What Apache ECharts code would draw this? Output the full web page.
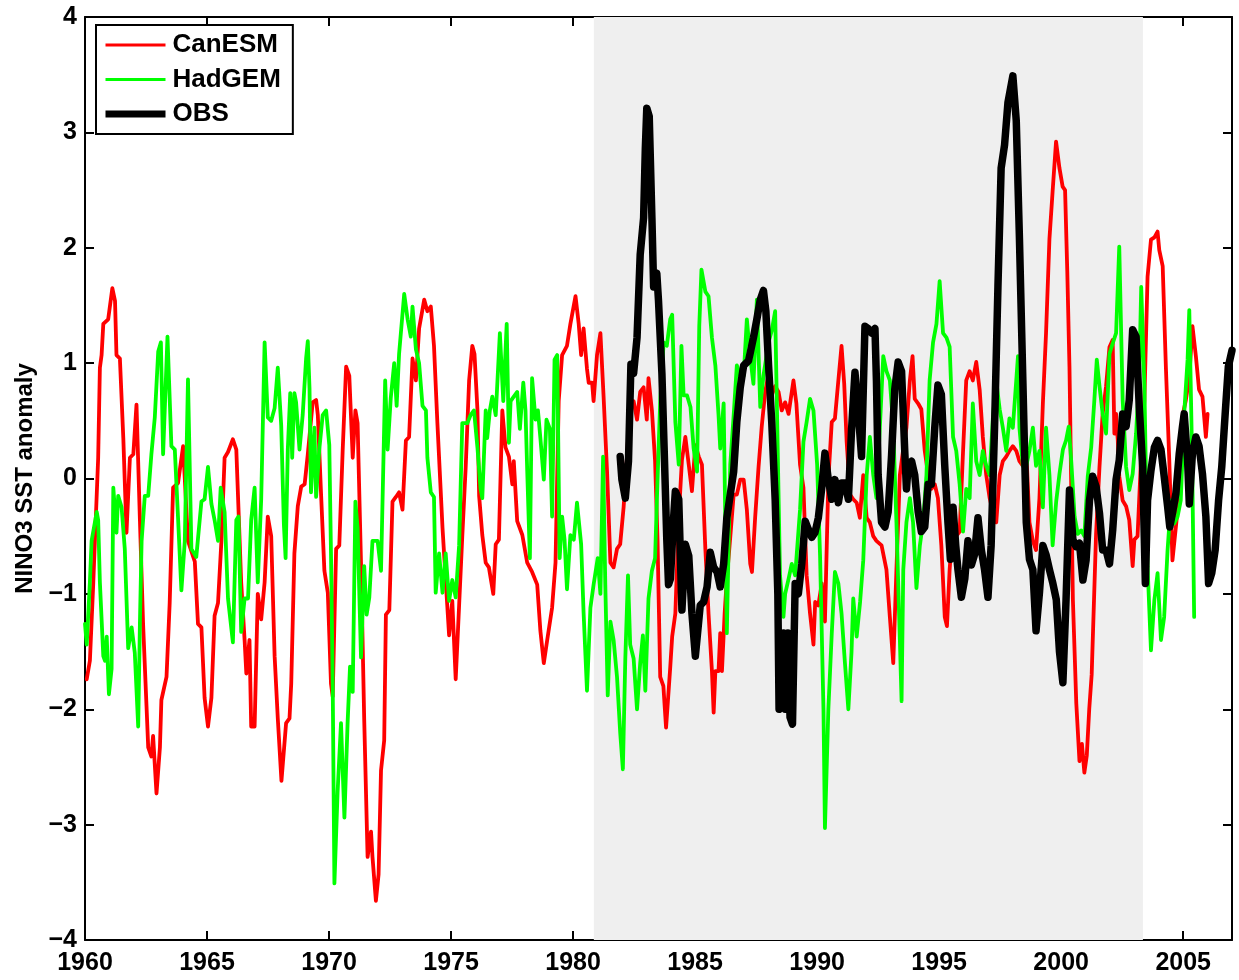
<!DOCTYPE html>
<html>
<head>
<meta charset="utf-8">
<title>NINO3 SST anomaly</title>
<script src="https://cdn.jsdelivr.net/npm/echarts@6/dist/echarts.min.js"></script>
<style>
  html, body { margin: 0; padding: 0; background: #ffffff; }
  #chart { width: 1239px; height: 980px; }
</style>
</head>
<body>
<div id="chart"></div>
<script>
// Monthly-ish NINO3 SST anomaly traces: [year, anomaly]
const canesm = [
  [1960.07,-1.74],[1960.2,-1.58],[1960.34,-0.90],[1960.54,0.18],[1960.61,0.96],[1960.68,1.07],[1960.75,1.34],[1960.95,1.38],
  [1961.12,1.65],[1961.23,1.54],[1961.29,1.07],[1961.43,1.04],[1961.57,0.35],[1961.7,-0.47],[1961.84,0.18],[1961.98,0.21],
  [1962.11,0.64],[1962.25,-0.36],[1962.38,-1.26],[1962.52,-1.97],[1962.59,-2.33],[1962.72,-2.41],[1962.79,-2.23],[1962.93,-2.73],
  [1963.07,-2.33],[1963.13,-1.92],[1963.34,-1.72],[1963.47,-1.08],[1963.61,-0.08],[1963.81,-0.04],[1964.02,0.28],[1964.22,-0.54],
  [1964.5,-0.72],[1964.63,-1.26],[1964.77,-1.29],[1964.9,-1.90],[1965.04,-2.15],[1965.18,-1.9],[1965.31,-1.19],[1965.45,-1.08],
  [1965.59,-0.54],[1965.72,0.18],[1965.86,0.23],[1966.06,0.34],[1966.2,0.25],[1966.4,-0.9],[1966.54,-1.4],[1966.61,-1.69],
  [1966.74,-1.4],[1966.81,-2.15],[1966.95,-2.15],[1967.08,-1.0],[1967.22,-1.22],[1967.36,-0.9],[1967.49,-0.33],[1967.63,-0.5],
  [1967.77,-1.54],[1967.9,-2.08],[1968.05,-2.62],[1968.24,-2.12],[1968.38,-2.08],[1968.45,-1.78],[1968.58,-0.65],[1968.72,-0.24],
  [1968.86,-0.07],[1969.0,-0.05],[1969.13,0.21],[1969.33,0.66],[1969.47,0.68],[1969.54,0.55],[1969.67,-0.12],[1969.81,-0.8],
  [1969.95,-0.99],[1970.08,-1.78],[1970.15,-1.89],[1970.29,-0.61],[1970.42,-0.58],[1970.56,0.25],[1970.7,0.97],[1970.83,0.89],
  [1970.97,0.18],[1971.08,0.59],[1971.17,0.48],[1971.31,-0.73],[1971.44,-2.08],[1971.58,-3.28],[1971.72,-3.06],[1971.78,-3.28],
  [1971.92,-3.66],[1972.03,-3.43],[1972.13,-2.53],[1972.26,-2.27],[1972.33,-1.18],[1972.47,-1.14],[1972.6,-0.2],[1972.74,-0.16],
  [1972.87,-0.12],[1973.01,-0.27],[1973.15,0.33],[1973.28,0.36],[1973.42,1.04],[1973.56,0.85],[1973.69,1.3],[1973.9,1.55],
  [1974.03,1.45],[1974.17,1.49],[1974.3,1.15],[1974.44,0.48],[1974.65,-0.43],[1974.78,-0.88],[1974.92,-1.36],[1975.05,-1.06],
  [1975.19,-1.74],[1975.33,-1.1],[1975.46,-0.5],[1975.6,0.1],[1975.74,0.85],[1975.87,1.15],[1975.96,1.08],[1976.08,0.6],
  [1976.15,-0.15],[1976.28,-0.49],[1976.42,-0.73],[1976.55,-0.77],[1976.73,-1.0],[1976.83,-0.57],[1976.96,-0.53],[1977.1,0.59],
  [1977.23,0.27],[1977.37,0.19],[1977.51,-0.05],[1977.57,0.15],[1977.71,-0.37],[1977.92,-0.49],[1978.12,-0.73],[1978.32,-0.81],
  [1978.53,-0.92],[1978.66,-1.32],[1978.8,-1.6],[1978.94,-1.4],[1979.14,-1.12],[1979.28,-0.73],[1979.41,0.67],[1979.55,1.07],
  [1979.75,1.15],[1979.89,1.34],[1980.1,1.58],[1980.23,1.34],[1980.33,1.07],[1980.43,1.3],[1980.57,0.95],[1980.64,0.83],
  [1980.78,0.83],[1980.84,0.67],[1980.98,1.07],[1981.12,1.26],[1981.25,0.71],[1981.39,0.07],[1981.53,-0.73],[1981.66,-0.77],
  [1981.8,-0.61],[1981.93,-0.57],[1982.07,-0.25],[1982.21,0.19],[1982.34,0.67],[1982.48,0.67],[1982.62,0.51],[1982.75,0.75],
  [1982.89,0.79],[1983.02,0.51],[1983.09,0.87],[1983.23,0.59],[1983.36,0.15],[1983.46,-0.53],[1983.57,-1.72],[1983.7,-1.8],
  [1983.81,-2.16],[1983.98,-1.64],[1984.06,-1.37],[1984.19,-1.17],[1984.33,-0.34],[1984.46,0.16],[1984.6,0.36],[1984.74,0.12],
  [1984.87,-0.11],[1985.01,0.29],[1985.15,0.19],[1985.28,0.12],[1985.42,-0.61],[1985.55,-1.17],[1985.69,-1.67],[1985.76,-2.03],
  [1985.83,-1.67],[1985.96,-1.67],[1986.03,-1.34],[1986.1,-1.67],[1986.21,-1.17],[1986.3,-0.87],[1986.44,-0.51],[1986.58,-0.14],
  [1986.71,-0.14],[1986.85,-0.01],[1986.99,-0.01],[1987.12,-0.27],[1987.26,-0.74],[1987.33,-0.81],[1987.46,-0.34],[1987.6,0.1],
  [1987.73,0.45],[1987.87,0.75],[1988.01,0.9],[1988.14,0.72],[1988.28,0.8],[1988.42,0.75],[1988.55,0.59],[1988.69,0.66],
  [1988.83,0.56],[1989.03,0.85],[1989.15,0.65],[1989.3,0.12],[1989.44,-0.08],[1989.57,-0.84],[1989.71,-1.17],[1989.85,-1.44],
  [1989.92,-1.07],[1990.05,-1.1],[1990.19,-0.91],[1990.32,-1.24],[1990.46,-0.01],[1990.6,0.49],[1990.73,0.52],[1990.87,0.85],
  [1991.0,1.15],[1991.11,0.82],[1991.21,0.32],[1991.35,-0.14],[1991.48,-0.18],[1991.62,-0.21],[1991.75,-0.34],[1991.89,0.03],
  [1992.03,-0.34],[1992.16,-0.38],[1992.3,-0.5],[1992.43,-0.54],[1992.64,-0.58],[1992.84,-0.79],[1992.98,-1.2],[1993.12,-1.6],
  [1993.25,-0.79],[1993.39,0.03],[1993.52,0.24],[1993.66,0.44],[1993.8,0.85],[1993.91,1.06],[1994.0,0.69],[1994.14,0.65],
  [1994.27,0.6],[1994.41,0.24],[1994.55,0.03],[1994.68,-0.09],[1994.82,-0.05],[1994.95,-0.17],[1995.09,-0.58],[1995.23,-1.2],
  [1995.32,-1.28],[1995.43,-0.79],[1995.57,-0.38],[1995.7,-0.5],[1995.84,-0.46],[1995.98,0.24],[1996.11,0.85],[1996.25,0.93],
  [1996.38,0.85],[1996.52,1.01],[1996.66,0.77],[1996.79,0.36],[1996.93,0.03],[1997.07,-0.17],[1997.2,-0.29],[1997.34,-0.38],
  [1997.48,0.03],[1997.61,0.15],[1997.75,0.19],[1997.88,0.24],[1998.02,0.28],[1998.16,0.24],[1998.29,0.15],[1998.43,0.11],
  [1998.57,0.24],[1998.7,-0.38],[1998.84,-0.54],[1998.97,-0.62],[1999.11,-0.17],[1999.25,0.65],[1999.38,1.26],[1999.52,2.08],
  [1999.65,2.49],[1999.79,2.92],[1999.93,2.69],[2000.06,2.53],[2000.16,2.5],[2000.25,1.8],[2000.34,0.97],[2000.48,-1.05],
  [2000.62,-1.95],[2000.75,-2.45],[2000.85,-2.3],[2000.95,-2.55],[2001.05,-2.4],[2001.15,-2.0],[2001.25,-1.7],[2001.43,-0.48],
  [2001.57,0.1],[2001.7,0.56],[2001.84,0.8],[2001.98,1.14],[2002.11,1.2],[2002.18,0.39],[2002.25,0.56],[2002.32,0.33],
  [2002.38,0.02],[2002.52,-0.19],[2002.66,-0.24],[2002.79,-0.36],[2002.93,-0.76],[2003.0,-0.53],[2003.13,-0.5],[2003.27,0.16],
  [2003.41,0.68],[2003.54,1.75],[2003.68,2.07],[2003.82,2.09],[2003.95,2.14],[2004.02,1.98],[2004.16,1.84],[2004.29,0.97],
  [2004.43,0.16],[2004.56,-0.71],[2004.7,-0.42],[2004.84,-0.13],[2004.97,0.54],[2005.11,0.68],[2005.25,0.88],[2005.38,1.32],
  [2005.52,1.06],[2005.65,0.77],[2005.79,0.71],[2005.93,0.36],[2006.0,0.56]
];

const hadgem = [
  [1960.0,-1.26],[1960.07,-1.44],[1960.2,-0.9],[1960.27,-0.54],[1960.48,-0.29],[1960.54,-0.36],[1960.61,-0.9],[1960.75,-1.54],
  [1960.82,-1.58],[1960.89,-1.37],[1960.98,-1.87],[1961.09,-1.65],[1961.16,-0.08],[1961.29,-0.47],[1961.36,-0.15],[1961.5,-0.25],
  [1961.63,-0.61],[1961.77,-1.47],[1961.91,-1.29],[1962.04,-1.51],[1962.18,-2.15],[1962.25,-1.26],[1962.32,-0.54],[1962.45,-0.15],
  [1962.59,-0.15],[1962.72,0.21],[1962.86,0.53],[1963.0,1.1],[1963.11,1.18],[1963.2,0.21],[1963.38,1.23],[1963.54,0.28],
  [1963.68,0.25],[1963.81,-0.33],[1963.95,-0.97],[1964.09,-0.54],[1964.22,0.86],[1964.36,-0.61],[1964.56,-0.68],[1964.77,-0.2],
  [1964.9,-0.18],[1965.04,0.1],[1965.18,-0.22],[1965.31,-0.36],[1965.45,-0.54],[1965.56,-0.08],[1965.72,-0.29],[1965.86,-1.04],
  [1966.06,-1.42],[1966.2,-0.36],[1966.29,-0.33],[1966.4,-1.33],[1966.54,-1.04],[1966.68,-1.04],[1966.81,-0.36],[1966.95,-0.08],
  [1967.08,-0.9],[1967.22,-0.18],[1967.36,1.18],[1967.49,0.53],[1967.63,0.5],[1967.77,0.61],[1967.9,0.96],[1968.04,0.46],
  [1968.15,-0.4],[1968.22,-0.69],[1968.31,0.25],[1968.41,0.74],[1968.49,0.18],[1968.58,0.74],[1968.65,0.66],[1968.79,0.25],
  [1968.92,0.55],[1969.06,1.04],[1969.13,1.19],[1969.2,0.78],[1969.26,-0.12],[1969.4,0.44],[1969.47,-0.16],[1969.6,0.25],
  [1969.74,0.55],[1969.88,0.59],[1970.01,0.29],[1970.08,-0.65],[1970.15,-1.78],[1970.22,-3.51],[1970.35,-2.72],[1970.49,-2.12],
  [1970.63,-2.94],[1970.76,-2.12],[1970.86,-1.63],[1970.97,-1.85],[1971.08,-0.2],[1971.17,-0.43],[1971.31,-1.55],[1971.44,-0.76],
  [1971.54,-1.18],[1971.65,-1.03],[1971.78,-0.54],[1971.99,-0.54],[1972.13,-0.8],[1972.3,0.85],[1972.4,0.25],[1972.53,0.7],
  [1972.67,1.0],[1972.77,0.63],[1972.87,1.08],[1973.08,1.6],[1973.22,1.38],[1973.35,1.23],[1973.42,1.49],[1973.56,1.12],
  [1973.69,1.0],[1973.83,0.63],[1973.97,0.59],[1974.03,0.18],[1974.17,-0.12],[1974.3,-0.16],[1974.37,-0.99],[1974.51,-0.65],
  [1974.65,-0.99],[1974.78,-0.65],[1974.92,-1.06],[1975.05,-0.88],[1975.19,-1.03],[1975.33,-0.58],[1975.46,0.48],[1975.67,0.48],
  [1975.8,0.55],[1975.94,0.59],[1976.08,0.27],[1976.21,-0.09],[1976.28,-0.17],[1976.42,0.59],[1976.48,0.35],[1976.59,0.59],
  [1976.69,0.71],[1976.83,0.55],[1977.0,1.26],[1977.14,0.67],[1977.28,1.34],[1977.37,0.31],[1977.44,0.67],[1977.57,0.71],
  [1977.71,0.75],[1977.82,0.43],[1977.96,0.83],[1978.05,0.59],[1978.12,0.07],[1978.23,-0.69],[1978.32,0.87],[1978.46,0.51],
  [1978.56,0.59],[1978.66,0.35],[1978.8,-0.01],[1978.91,0.51],[1979.05,0.43],[1979.14,-0.33],[1979.24,1.03],[1979.35,1.07],
  [1979.45,-0.69],[1979.55,-0.33],[1979.65,-0.53],[1979.75,-0.96],[1979.89,-0.49],[1980.03,-0.53],[1980.16,-0.21],[1980.33,-0.57],
  [1980.43,-1.16],[1980.57,-1.84],[1980.71,-1.12],[1980.84,-0.92],[1981.01,-0.69],[1981.12,-1.0],[1981.23,0.19],[1981.32,-0.92],
  [1981.42,-1.88],[1981.53,-1.24],[1981.66,-1.4],[1981.8,-1.72],[1981.93,-2.2],[1982.04,-2.52],[1982.14,-1.56],[1982.25,-0.84],
  [1982.34,-1.44],[1982.48,-1.56],[1982.62,-2.0],[1982.75,-1.6],[1982.86,-1.36],[1982.96,-1.84],[1983.09,-1.04],[1983.23,-0.8],
  [1983.36,-0.69],[1983.46,-0.01],[1983.57,0.67],[1983.71,1.18],[1983.84,1.15],[1983.98,1.38],[1984.06,1.42],[1984.19,0.49],
  [1984.33,0.12],[1984.44,1.15],[1984.53,0.72],[1984.67,0.72],[1984.81,0.62],[1984.94,0.26],[1985.08,0.06],[1985.17,1.32],
  [1985.26,1.81],[1985.42,1.62],[1985.55,1.58],[1985.69,1.22],[1985.83,0.98],[1985.96,0.55],[1986.03,0.26],[1986.17,0.65],
  [1986.3,-1.34],[1986.44,0.12],[1986.58,0.55],[1986.71,0.98],[1986.85,0.89],[1986.99,0.89],[1987.12,1.38],[1987.26,1.05],
  [1987.39,0.82],[1987.53,1.55],[1987.67,0.62],[1987.8,0.89],[1988.01,1.18],[1988.14,1.28],[1988.28,1.45],[1988.35,0.65],
  [1988.48,-0.84],[1988.62,-1.2],[1988.69,-1.0],[1988.83,-0.87],[1988.96,-0.74],[1989.1,-0.84],[1989.3,-0.27],[1989.44,0.32],
  [1989.57,0.49],[1989.71,0.69],[1989.85,0.59],[1990.0,0.12],[1990.12,-0.67],[1990.26,-2.0],[1990.32,-3.03],[1990.46,-2.0],
  [1990.6,-1.34],[1990.73,-0.81],[1990.87,-0.91],[1991.0,-1.17],[1991.14,-1.6],[1991.28,-2.0],[1991.41,-1.5],[1991.48,-1.04],
  [1991.62,-1.37],[1991.76,-1.07],[1991.89,-0.71],[1992.03,0.03],[1992.16,0.36],[1992.3,0.03],[1992.43,-0.17],[1992.57,0.44],
  [1992.71,1.06],[1992.84,0.93],[1992.98,0.85],[1993.12,0.44],[1993.25,-0.38],[1993.39,-1.4],[1993.46,-1.93],[1993.53,-0.79],
  [1993.66,-0.38],[1993.8,-0.17],[1993.93,-0.38],[1994.07,-0.95],[1994.21,-0.58],[1994.34,-0.38],[1994.48,0.03],[1994.61,0.85],
  [1994.75,1.18],[1994.89,1.34],[1995.02,1.71],[1995.16,1.26],[1995.3,1.22],[1995.43,1.14],[1995.57,0.36],[1995.7,0.24],
  [1995.84,-0.05],[1995.98,-0.46],[1996.11,-0.09],[1996.25,-0.17],[1996.38,0.65],[1996.52,0.15],[1996.66,0.03],[1996.79,0.24],
  [1996.93,0.11],[1997.07,0.03],[1997.2,0.52],[1997.34,0.85],[1997.48,0.6],[1997.61,0.44],[1997.75,0.24],[1997.88,0.52],
  [1998.02,0.44],[1998.16,0.85],[1998.23,1.06],[1998.29,0.44],[1998.43,0.11],[1998.57,0.11],[1998.7,0.24],[1998.84,0.44],
  [1998.97,0.11],[1999.11,0.24],[1999.25,-0.25],[1999.38,0.44],[1999.52,0.03],[1999.65,-0.58],[1999.8,-0.19],[1999.93,0.04],
  [2000.07,0.25],[2000.2,0.33],[2000.31,0.45],[2000.41,0.16],[2000.55,-0.33],[2000.68,-0.48],[2000.82,-0.45],[2000.95,-0.5],
  [2001.09,0.02],[2001.23,0.27],[2001.36,0.68],[2001.46,1.03],[2001.57,0.8],[2001.7,0.56],[2001.84,0.39],[2001.98,1.08],
  [2002.11,1.17],[2002.25,1.26],[2002.38,2.01],[2002.52,0.68],[2002.66,0.1],[2002.79,-0.1],[2002.93,0.04],[2003.07,0.39],
  [2003.2,0.91],[2003.28,1.66],[2003.41,0.8],[2003.54,-0.76],[2003.68,-1.49],[2003.82,-1.05],[2003.95,-0.82],[2004.09,-1.4],
  [2004.22,-1.2],[2004.36,-0.62],[2004.5,-0.19],[2004.63,-0.39],[2004.77,-0.33],[2004.9,-0.19],[2005.04,0.56],[2005.18,1.03],
  [2005.25,1.46],[2005.36,0.25],[2005.45,-1.2]
];

const obs = [
  [1981.93,0.19],[1982.0,-0.01],[1982.14,-0.17],[1982.27,0.15],[1982.37,0.99],[1982.48,0.91],[1982.62,1.22],[1982.75,1.94],
  [1982.89,2.26],[1982.96,2.86],[1983.02,3.21],[1983.12,3.14],[1983.23,2.26],[1983.3,1.66],[1983.43,1.78],[1983.5,1.54],
  [1983.64,0.91],[1983.73,0.27],[1983.84,-0.53],[1983.91,-0.92],[1983.99,-0.87],[1984.12,-0.34],[1984.19,-0.11],[1984.33,-0.18],
  [1984.46,-1.14],[1984.6,-0.57],[1984.74,-0.67],[1984.87,-1.17],[1985.01,-1.54],[1985.21,-1.1],[1985.35,-1.07],[1985.49,-0.94],
  [1985.62,-0.64],[1985.76,-0.77],[1985.9,-0.81],[1986.03,-0.94],[1986.17,-0.74],[1986.3,-0.34],[1986.44,-0.14],[1986.58,0.06],
  [1986.71,0.49],[1986.85,0.79],[1986.99,0.98],[1987.19,1.02],[1987.39,1.22],[1987.53,1.38],[1987.67,1.55],[1987.8,1.63],
  [1987.9,1.45],[1988.01,0.98],[1988.14,0.49],[1988.28,-0.18],[1988.39,-1.0],[1988.44,-2.0],[1988.52,-1.93],[1988.62,-1.34],
  [1988.69,-2.0],[1988.8,-1.34],[1988.89,-2.07],[1988.99,-2.13],[1989.1,-0.91],[1989.23,-1.0],[1989.37,-0.74],[1989.51,-0.37],
  [1989.64,-0.44],[1989.78,-0.51],[1989.91,-0.47],[1990.05,-0.34],[1990.19,-0.08],[1990.32,0.22],[1990.46,-0.01],[1990.6,-0.18],
  [1990.73,-0.01],[1990.87,-0.21],[1991.0,-0.04],[1991.14,-0.04],[1991.28,-0.18],[1991.41,0.42],[1991.55,0.92],[1991.68,0.59],
  [1991.82,0.19],[1991.96,1.32],[1992.09,1.3],[1992.23,1.26],[1992.37,1.3],[1992.43,0.85],[1992.5,0.03],[1992.64,-0.38],
  [1992.78,-0.42],[1992.91,-0.29],[1993.05,0.2],[1993.18,0.77],[1993.32,1.01],[1993.46,0.93],[1993.59,0.24],[1993.66,-0.09],
  [1993.73,0.11],[1993.87,0.15],[1994.0,0.03],[1994.14,-0.29],[1994.27,-0.46],[1994.41,-0.42],[1994.55,-0.05],[1994.68,-0.05],
  [1994.82,0.44],[1994.95,0.81],[1995.09,0.73],[1995.23,0.11],[1995.36,-0.38],[1995.46,-0.7],[1995.57,-0.25],[1995.68,-0.58],
  [1995.77,-0.79],[1995.91,-1.03],[1996.05,-0.87],[1996.18,-0.54],[1996.32,-0.75],[1996.45,-0.66],[1996.59,-0.34],[1996.73,-0.62],
  [1996.86,-0.79],[1997.0,-1.03],[1997.13,-0.58],[1997.27,0.44],[1997.41,1.67],[1997.54,2.69],[1997.68,2.89],[1997.82,3.26],
  [1998.02,3.49],[1998.16,3.1],[1998.29,2.08],[1998.43,0.85],[1998.57,-0.38],[1998.7,-0.7],[1998.84,-0.79],[1998.97,-1.32],
  [1999.11,-0.99],[1999.25,-0.58],[1999.38,-0.66],[1999.52,-0.79],[1999.65,-0.9],[1999.8,-1.05],[1999.93,-1.5],[2000.07,-1.77],
  [2000.2,-1.05],[2000.34,-0.1],[2000.48,-0.53],[2000.61,-0.59],[2000.75,-0.56],[2000.89,-0.88],[2001.02,-0.71],[2001.16,-0.19],
  [2001.29,0.02],[2001.43,-0.07],[2001.57,-0.3],[2001.7,-0.62],[2001.84,-0.62],[2001.98,-0.74],[2002.11,-0.45],[2002.25,-0.01],
  [2002.38,0.16],[2002.52,0.56],[2002.66,0.45],[2002.79,0.68],[2002.93,1.29],[2003.07,1.23],[2003.2,0.62],[2003.34,0.1],
  [2003.45,-0.91],[2003.54,-0.19],[2003.68,0.07],[2003.82,0.27],[2003.95,0.33],[2004.09,0.25],[2004.22,0.02],[2004.36,-0.24],
  [2004.45,-0.42],[2004.56,-0.3],[2004.7,-0.13],[2004.84,0.22],[2004.97,0.45],[2005.04,0.56],[2005.18,0.16],[2005.25,-0.22],
  [2005.38,0.22],[2005.52,0.36],[2005.65,0.28],[2005.79,0.04],[2005.93,-0.33],[2006.04,-0.91],[2006.17,-0.82],[2006.31,-0.62],
  [2006.45,-0.19],[2006.58,0.1],[2006.72,0.56],[2006.85,0.97],[2007.0,1.11]
];

// Shaded period and axis ranges
const shadePeriod = [1980.85, 2003.35];
const yearRange = [1960, 2007];
const anomalyRange = [-4, 4];

const seriesNames = ['CanESM', 'HadGEM', 'OBS'];
const seriesColors = ['#ff0000', '#00ff00', '#000000'];
const seriesWidths = [3.8, 3.8, 7.5];
const legendWidths = [3, 3, 7];
const fontFamily = '"Liberation Sans", Arial, Helvetica, sans-serif';

const frameLine = { show: true, onZero: false, lineStyle: { color: '#000', width: 2 } };
const frameTick = { show: true, inside: true, length: 9, lineStyle: { color: '#000', width: 2 } };

function minusSign(v) {
  return v < 0 ? '\u2212' + Math.abs(v) : String(v);
}

const traces = [canesm, hadgem, obs];

const lineSeries = seriesNames.map((name, i) => ({
  name: name,
  type: 'line',
  data: traces[i],
  z: 2 + i,
  showSymbol: false,
  symbol: 'none',
  clip: true,
  lineStyle: { color: seriesColors[i], width: seriesWidths[i], join: 'round', cap: 'round' },
  itemStyle: { color: seriesColors[i] }
}));

const legendItems = seriesNames.map((name, i) => ({
  name: name,
  lineStyle: { color: seriesColors[i], width: legendWidths[i], cap: 'butt' },
  itemStyle: { opacity: 0, borderWidth: 0 }
}));

const chart = echarts.init(document.getElementById('chart'), null, { renderer: 'canvas' });

chart.setOption({
  animation: false,
  backgroundColor: '#ffffff',
  grid: { left: 85, right: 7, top: 17, bottom: 40, containLabel: false },
  xAxis: [
    {
      type: 'value', position: 'bottom',
      min: yearRange[0], max: yearRange[1], interval: 5,
      axisLine: frameLine, axisTick: frameTick,
      splitLine: { show: false },
      axisLabel: {
        color: '#000', fontSize: 25, fontWeight: 'bold', fontFamily: fontFamily, margin: 11,
        showMaxLabel: false,
        formatter: v => (v % 5 === 0 ? String(v) : '')
      }
    },
    {
      type: 'value', position: 'top',
      min: yearRange[0], max: yearRange[1], interval: 5,
      axisLine: frameLine, axisTick: frameTick,
      splitLine: { show: false }, axisLabel: { show: false }
    }
  ],
  yAxis: [
    {
      type: 'value', position: 'left',
      min: anomalyRange[0], max: anomalyRange[1], interval: 1,
      axisLine: frameLine, axisTick: frameTick,
      splitLine: { show: false },
      axisLabel: {
        color: '#000', fontSize: 25, fontWeight: 'bold', fontFamily: fontFamily, margin: 8,
        formatter: minusSign
      },
      name: 'NINO3 SST anomaly',
      nameLocation: 'middle',
      nameGap: 47,
      nameTextStyle: { color: '#000', fontSize: 24, fontWeight: 'bold', fontFamily: fontFamily }
    },
    {
      type: 'value', position: 'right',
      min: anomalyRange[0], max: anomalyRange[1], interval: 1,
      axisLine: frameLine, axisTick: frameTick,
      splitLine: { show: false }, axisLabel: { show: false }
    }
  ],
  legend: {
    data: legendItems,
    orient: 'vertical',
    left: 96, top: 25,
    padding: [6, 12, 6, 6],
    itemGap: 6.5,
    itemWidth: 60,
    itemHeight: 14,
    backgroundColor: '#ffffff',
    borderColor: '#000',
    borderWidth: 2,
    borderRadius: 0,
    selectedMode: false,
    itemStyle: { opacity: 0, borderWidth: 0 },
    textStyle: {
      color: '#000', fontSize: 26, fontWeight: 'bold', fontFamily: fontFamily,
      lineHeight: 28, padding: [0, 0, 0, 2]
    }
  },
  series: [
    {
      name: 'shade', type: 'line', data: [], z: 1, silent: true,
      markArea: {
        silent: true,
        itemStyle: { color: '#efefef' },
        data: [[{ xAxis: shadePeriod[0] }, { xAxis: shadePeriod[1] }]]
      }
    }
  ].concat(lineSeries)
});
</script>
</body>
</html>
